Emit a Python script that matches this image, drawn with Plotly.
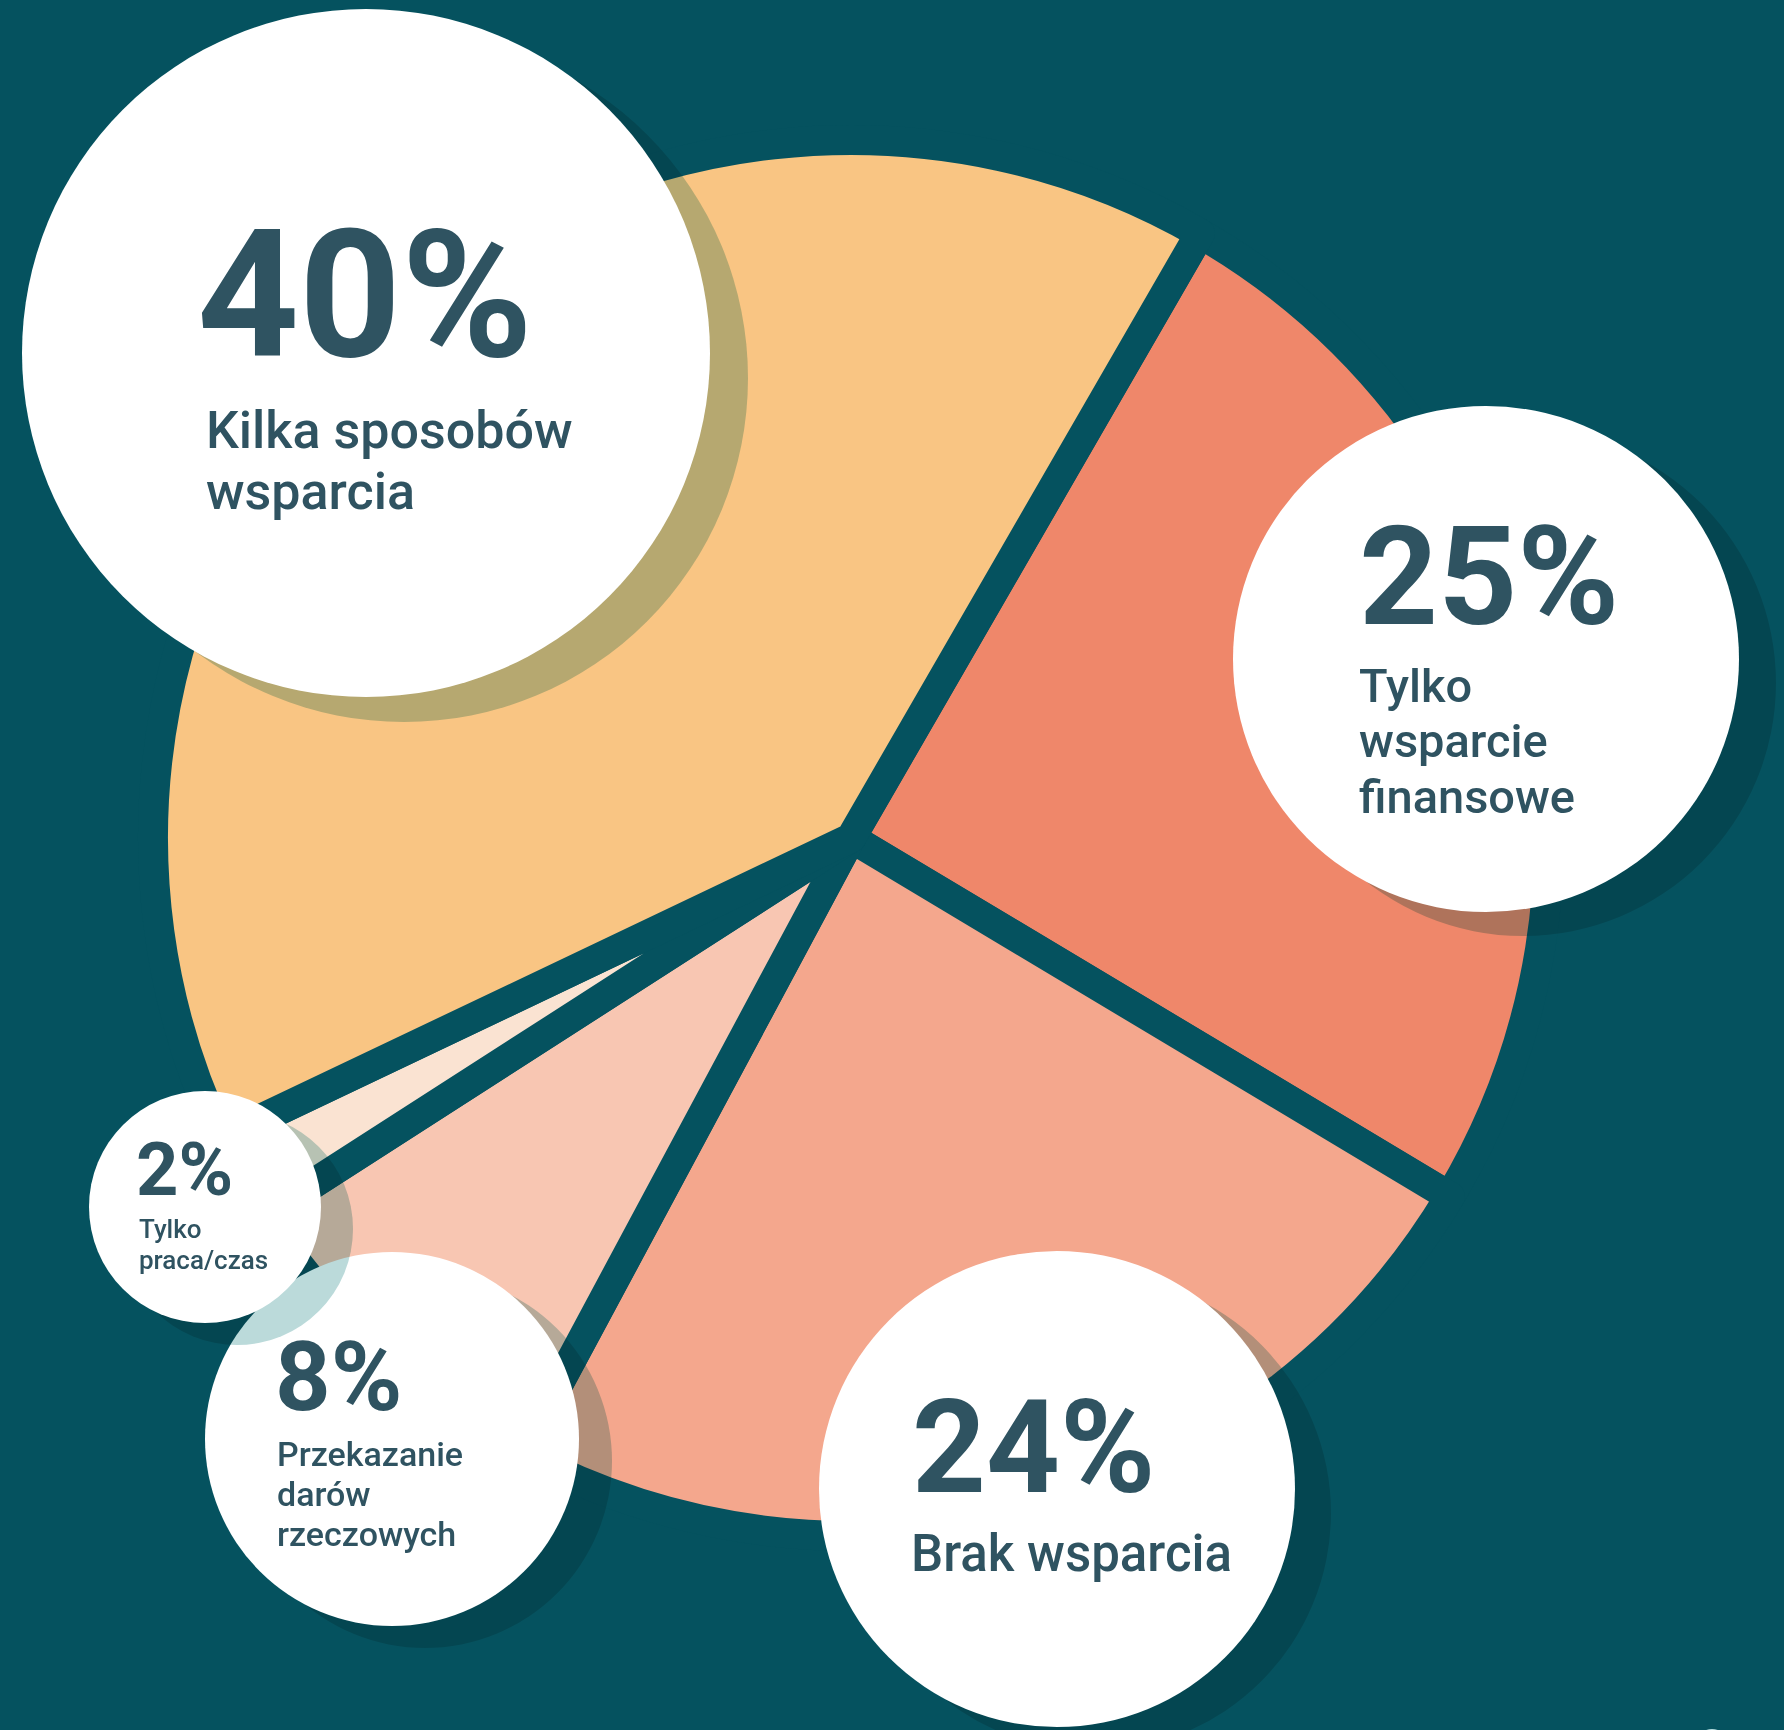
import plotly.graph_objects as go

W, H = 1784, 1730

# ---- data -------------------------------------------------------------
categories = [
    "Tylko wsparcie finansowe",
    "Brak wsparcia",
    "Przekazanie darów rzeczowych",
    "Tylko praca/czas",
    "Kilka sposobów wsparcia",
]
shares = [25, 24, 8, 2, 40]
label_lines = [
    ["Tylko", "wsparcie", "finansowe"],
    ["Brak wsparcia"],
    ["Przekazanie", "darów", "rzeczowych"],
    ["Tylko", "praca/czas"],
    ["Kilka sposobów", "wsparcia"],
]

# ---- style ------------------------------------------------------------
BG = "#05525F"
slice_colors = ["#EF876A", "#F4A78D", "#F8C6B2", "#FAE3D2", "#F9C583"]
INK = "#2F5361"
SHADOW = "#BBDADA"          # multiplied onto whatever lies beneath
FONT = "Roboto, sans-serif"
MID = 0.342                 # annotation box middle above the baseline, in em

# pie placement (pixels)
PIE_CX, PIE_CY, PIE_R = 851, 838, 698
GAP = 30

# label bubbles (pixels): circle, shadow offset, headline and caption layout
bubbles = {
    4: dict(cx=366, cy=353, r=344, sdx=38, sdy=25,
            px=196, pbase=356, psize=178, lx=205, lbase=[448, 509], lsize=52),
    0: dict(cx=1486, cy=659, r=253, sdx=37, sdy=24,
            px=1358, pbase=624, psize=138, lx=1358, lbase=[701.5, 757, 812.5], lsize=47),
    1: dict(cx=1057, cy=1489, r=238, sdx=36, sdy=24,
            px=911, pbase=1492, psize=129, lx=910, lbase=[1571], lsize=51),
    2: dict(cx=392, cy=1439, r=187, sdx=33, sdy=22,
            px=274, pbase=1410, psize=97, lx=276, lbase=[1466, 1506, 1546], lsize=34),
    3: dict(cx=205, cy=1207, r=116, sdx=32, sdy=22,
            px=135, pbase=1195, psize=74, lx=138, lbase=[1238, 1269], lsize=26),
}
draw_order = [4, 0, 1, 2, 3]


def fx(x):
    return x / W


def fy(y):
    return 1 - y / H


def circle(cx, cy, r, color):
    return dict(type="circle", xref="paper", yref="paper", layer="above",
                x0=fx(cx - r), x1=fx(cx + r), y0=fy(cy + r), y1=fy(cy - r),
                fillcolor=color, line=dict(width=0))


fig = go.Figure(go.Pie(
    labels=categories,
    values=shares,
    sort=False,
    direction="clockwise",
    rotation=30,
    marker=dict(colors=slice_colors, line=dict(color=BG, width=GAP)),
    textinfo="none",
    hoverinfo="label+percent",
    showlegend=False,
    domain=dict(x=[fx(PIE_CX - PIE_R), fx(PIE_CX + PIE_R)],
                y=[fy(PIE_CY + PIE_R), fy(PIE_CY - PIE_R)]),
))

shapes = [dict(type="rect", xref="paper", yref="paper", layer="below",
               x0=0, x1=1, y0=0, y1=1, fillcolor=BG, line=dict(width=0))]
shadow_idx = []
annotations = []


def text(x, baseline, s, size, weight):
    annotations.append(dict(
        xref="paper", yref="paper", x=fx(x), y=fy(baseline - MID * size),
        xanchor="left", yanchor="middle", showarrow=False, borderpad=0,
        text=s, align="left",
        font=dict(family=FONT, size=size, color=INK, weight=weight),
    ))


for i in draw_order:
    b = bubbles[i]
    shadow_idx.append(len(shapes))
    shapes.append(circle(b["cx"] + b["sdx"], b["cy"] + b["sdy"], b["r"], SHADOW))
    shapes.append(circle(b["cx"], b["cy"], b["r"], "#FFFFFF"))
    text(b["px"], b["pbase"], f"{shares[i]}%", b["psize"], 700)
    for line, base in zip(label_lines[i], b["lbase"]):
        text(b["lx"], base, line, b["lsize"], 500)

# small ornament peeking in at the lower edge
shapes.append(circle(1712, 1746, 17, "#B5DEE0"))

fig.update_layout(
    width=W, height=H, autosize=False,
    margin=dict(l=0, r=0, t=0, b=0),
    paper_bgcolor=BG, plot_bgcolor=BG,
    shapes=shapes, annotations=annotations,
)

post_js = """
document.body.style.margin = '0';
var gd = document.getElementById('{plot_id}');
var shadowIdx = %s;
function blendShadows() {
  gd.querySelectorAll('.shapelayer path').forEach(function (p) {
    if (shadowIdx.indexOf(+p.getAttribute('data-index')) >= 0) {
      p.style.mixBlendMode = 'multiply';
    }
  });
}
blendShadows();
if (gd.on) { gd.on('plotly_afterplot', blendShadows); }
""" % (shadow_idx,)

fig.write_html("out.html", config={"displayModeBar": False}, post_script=post_js)
